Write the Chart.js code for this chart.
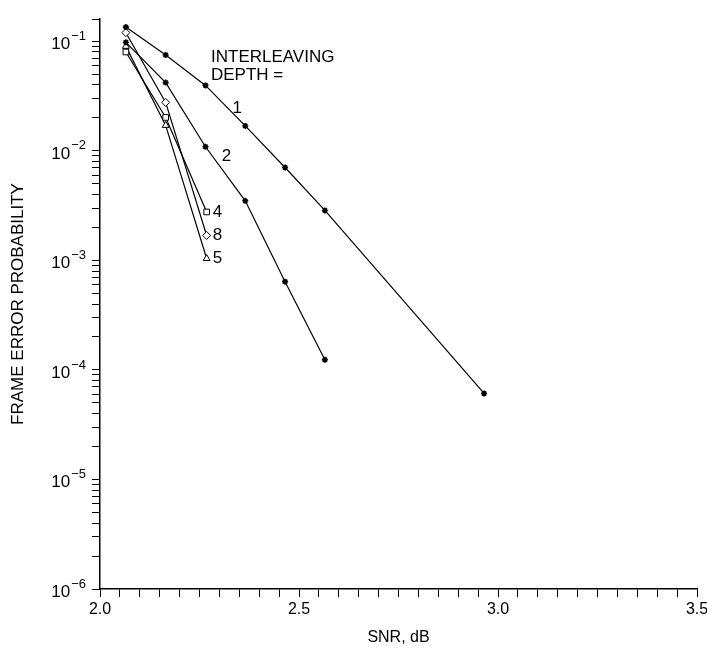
<!DOCTYPE html>
<html>
<head>
<meta charset="utf-8">
<title>Frame error probability vs SNR</title>
<script src="https://cdn.jsdelivr.net/npm/chart.js@4/dist/chart.umd.min.js"></script>
<style>
  html, body { margin: 0; padding: 0; background: #fff; }
  #wrap { width: 707px; height: 652px; }
</style>
</head>
<body>
<div id="wrap"><canvas id="chart" width="707" height="652"></canvas></div>
<script>
// SNR (dB) for each interleaving depth
const snrDepth1 = [2.065, 2.165, 2.265, 2.365, 2.465, 2.565, 2.965];
const snrDepth2 = [2.065, 2.165, 2.265, 2.365, 2.465, 2.565];
const snrDeep = [2.065, 2.165, 2.268];

// frame error probability
const ferDepth1 = [0.135, 0.075, 0.0396, 0.0169, 0.00705, 0.00286, 6.1e-5];
const ferDepth2 = [0.098, 0.042, 0.0109, 0.0035, 6.4e-4, 1.24e-4];
const ferDepth4 = [0.08, 0.0202, 0.00277];
const ferDepth8 = [0.12, 0.0277, 0.00169];
const ferDepth5 = [0.09, 0.0171, 0.00104];

// axis ticks
const xMajorTicks = [2.0, 2.5, 3.0, 3.5];
const yDecades = [1e-6, 1e-5, 1e-4, 1e-3, 1e-2, 1e-1];
const yExponents = ["\u22126", "\u22125", "\u22124", "\u22123", "\u22122", "\u22121"];

const FONT = '"Liberation Sans", Arial, Helvetica, sans-serif';
Chart.defaults.font.family = FONT;
Chart.defaults.color = "#000";

const pts = (xs, ys) => xs.map((x, i) => ({ x, y: ys[i] }));

function series(label, xs, ys, style, filled) {
  return {
    label,
    data: pts(xs, ys),
    borderColor: "#000",
    borderWidth: 1.2,
    tension: 0,
    pointStyle: style,
    pointRadius: filled ? 3 : 4,
    pointBorderWidth: filled ? 1.6 : 1,
    pointBorderColor: "#000",
    pointBackgroundColor: filled ? "#000" : "#fff",
  };
}

const textPlugin = {
  id: "textPlugin",
  afterDraw(chart) {
    const { ctx, chartArea, scales: { x, y } } = chart;
    ctx.save();
    ctx.fillStyle = "#000";

    // y tick labels: 10 with raised exponent
    const right = y.right - 14;
    yDecades.forEach((v, i) => {
      const py = y.getPixelForValue(v);
      ctx.textAlign = "right";
      ctx.textBaseline = "middle";
      ctx.font = "13px " + FONT;
      const ew = ctx.measureText(yExponents[i]).width;
      ctx.fillText(yExponents[i], right, py - 5);
      ctx.font = "17px " + FONT;
      ctx.fillText("10", right - ew - 1, py + 3);
    });

    // heading
    ctx.textAlign = "left";
    ctx.textBaseline = "alphabetic";
    ctx.font = "17px " + FONT;
    ctx.fillText("INTERLEAVING", chartArea.left + 111, chartArea.top + 43);
    ctx.fillText("DEPTH =", chartArea.left + 111, chartArea.top + 61);

    // curve labels
    ctx.font = "17px " + FONT;
    ctx.textBaseline = "middle";
    ctx.textAlign = "center";
    ctx.fillText("1", x.getPixelForValue(snrDepth1[3]) - 8, y.getPixelForValue(ferDepth1[3]) - 18);
    ctx.fillText("2", x.getPixelForValue(snrDepth2[2]) + 21, y.getPixelForValue(ferDepth2[2]) + 10);
    ctx.textAlign = "left";
    const last = snrDeep.length - 1;
    const ex = x.getPixelForValue(snrDeep[last]) + 6;
    ctx.fillText("4", ex, y.getPixelForValue(ferDepth4[last]));
    ctx.fillText("8", ex, y.getPixelForValue(ferDepth8[last]));
    ctx.fillText("5", ex, y.getPixelForValue(ferDepth5[last]));
    ctx.restore();
  }
};

const grid = {
  display: true,
  drawOnChartArea: false,
  drawTicks: true,
  tickLength: 8,
  tickColor: "#000",
  tickWidth: 1,
  color: "#000",
};

new Chart(document.getElementById("chart"), {
  type: "line",
  data: {
    datasets: [
      series("1", snrDepth1, ferDepth1, "star", true),
      series("2", snrDepth2, ferDepth2, "star", true),
      series("4", snrDeep, ferDepth4, "rect", false),
      series("8", snrDeep, ferDepth8, "rectRot", false),
      series("5", snrDeep, ferDepth5, "triangle", false),
    ],
  },
  options: {
    responsive: false,
    animation: false,
    layout: { padding: { top: 19, right: 0, bottom: 0, left: 0 } },
    plugins: {
      legend: { display: false },
      tooltip: { enabled: false },
    },
    scales: {
      x: {
        type: "linear",
        min: 2.0,
        max: 3.5,
        border: { display: true, color: "#000", width: 1.5 },
        grid,
        ticks: {
          stepSize: 0.05,
          autoSkip: false,
          maxRotation: 0,
          padding: 3,
          font: { size: 16 },
          color: "#000",
          callback: (v) => xMajorTicks.some(m => Math.abs(m - v) < 1e-6) ? Number(v).toFixed(1) : "",
        },
        title: {
          display: true,
          text: "SNR, dB",
          font: { size: 16 },
          color: "#000",
          padding: { top: 0, bottom: 5 },
        },
        afterFit(scale) {
          scale.height = 63;
          scale.paddingRight = 10;
        },
      },
      y: {
        type: "logarithmic",
        min: 1e-6,
        max: 0.16,
        border: { display: true, color: "#000", width: 1.5 },
        grid,
        ticks: { display: false, autoSkip: false },
        afterBuildTicks(scale) {
          scale.ticks = scale.ticks.filter(t => {
            const m = t.value / Math.pow(10, Math.floor(Math.log10(t.value) + 1e-9));
            return Math.abs(m - Math.round(m)) < 1e-6 || t.value === scale.max;
          });
        },
        title: {
          display: true,
          text: "FRAME ERROR PROBABILITY",
          font: { size: 17 },
          color: "#000",
          padding: { top: 8, bottom: 0 },
        },
        afterFit(scale) { scale.width = 100; },
      },
    },
  },
  plugins: [textPlugin],
});
</script>
</body>
</html>
